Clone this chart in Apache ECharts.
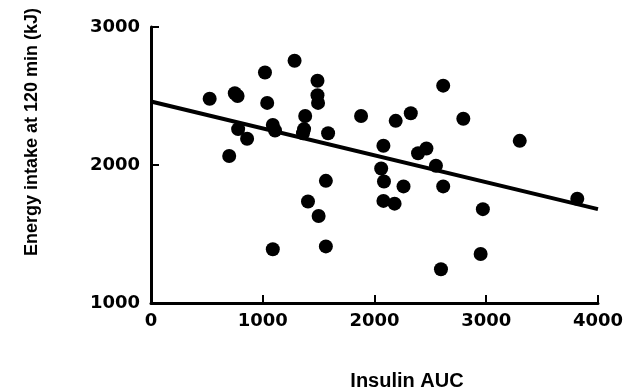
<!DOCTYPE html>
<html>
<head>
<meta charset="utf-8">
<script src="https://cdn.jsdelivr.net/npm/echarts@6/dist/echarts.min.js"></script>
<style>
  html, body { margin: 0; padding: 0; background: #fff; }
  #chart { width: 626px; height: 391px; }
</style>
</head>
<body>
<div id="chart"></div>
<script>
// values
const insulinAuc = [
  525, 750, 775, 1020, 1040, 1090, 1110, 780, 860, 700, 1090,
  1285, 1490, 1490, 1495, 1380, 1370, 1360, 1585, 1565, 1405, 1500, 1565,
  1880, 2190, 2325, 2615, 2795, 3300, 2080, 2390, 2465, 2550, 2060, 2085,
  2260, 2615, 2080, 2180, 2970, 3815, 2950, 2595,
];
const energyIntake = [
  2480, 2520, 2500, 2670, 2450, 2290, 2250, 2260, 2190, 2065, 1390,
  2755, 2610, 2505, 2450, 2355, 2260, 2230, 2230, 1885, 1735, 1630, 1410,
  2355, 2320, 2375, 2575, 2335, 2175, 2140, 2085, 2120, 1995, 1975, 1880,
  1845, 1845, 1740, 1720, 1680, 1755, 1355, 1245,
];
// regression line ends
const fitX = [0, 4000];
const fitY = [2460, 1680];

const xTicks = [0, 1000, 2000, 3000, 4000];
const yTicks = [1000, 2000, 3000];

const xTitle = "Insulin AUC";
const yTitle = "Energy intake at 120 min (kJ)";

const tickFont = {
  color: "#000",
  fontFamily: "DejaVu Sans",
  fontWeight: "bold",
  fontSize: 18,
  formatter: v => String(v),
};

const chart = echarts.init(document.getElementById("chart"), null, { renderer: "canvas" });

chart.setOption({
  animation: false,
  backgroundColor: "#fff",
  grid: {
    left: 151,
    right: 25,
    top: 27,
    bottom: 88,
    containLabel: false,
  },
  xAxis: {
    type: "value",
    min: xTicks[0],
    max: xTicks[xTicks.length - 1],
    interval: xTicks[1] - xTicks[0],
    axisLine: { show: true, onZero: false, lineStyle: { color: "#000", width: 3 } },
    axisTick: { show: true, inside: true, length: 8, lineStyle: { color: "#000", width: 2 } },
    axisLabel: { ...tickFont, margin: 9 },
    splitLine: { show: false },
  },
  yAxis: {
    type: "value",
    min: yTicks[0],
    max: yTicks[yTicks.length - 1],
    interval: yTicks[1] - yTicks[0],
    axisLine: { show: true, onZero: false, lineStyle: { color: "#000", width: 3 } },
    axisTick: { show: true, inside: true, length: 8, lineStyle: { color: "#000", width: 2 } },
    axisLabel: { ...tickFont, margin: 11 },
    splitLine: { show: false },
  },
  series: [
    {
      type: "scatter",
      symbol: "circle",
      symbolSize: 14,
      itemStyle: { color: "#000", opacity: 1 },
      data: insulinAuc.map((x, i) => [x, energyIntake[i]]),
      z: 2,
    },
    {
      type: "line",
      symbol: "none",
      lineStyle: { color: "#000", width: 4 },
      data: fitX.map((x, i) => [x, fitY[i]]),
      z: 3,
    },
  ],
  graphic: [
    {
      type: "text",
      x: 32,
      y: 132,
      rotation: Math.PI / 2,
      style: {
        text: yTitle,
        fill: "#000",
        font: "bold 18px 'Liberation Sans', Arial, sans-serif",
        align: "center",
        verticalAlign: "middle",
      },
    },
    {
      type: "text",
      x: 407,
      y: 381,
      style: {
        text: xTitle,
        fill: "#000",
        font: "bold 20px 'Liberation Sans', Arial, sans-serif",
        align: "center",
        verticalAlign: "middle",
      },
    },
  ],
});
</script>
</body>
</html>
